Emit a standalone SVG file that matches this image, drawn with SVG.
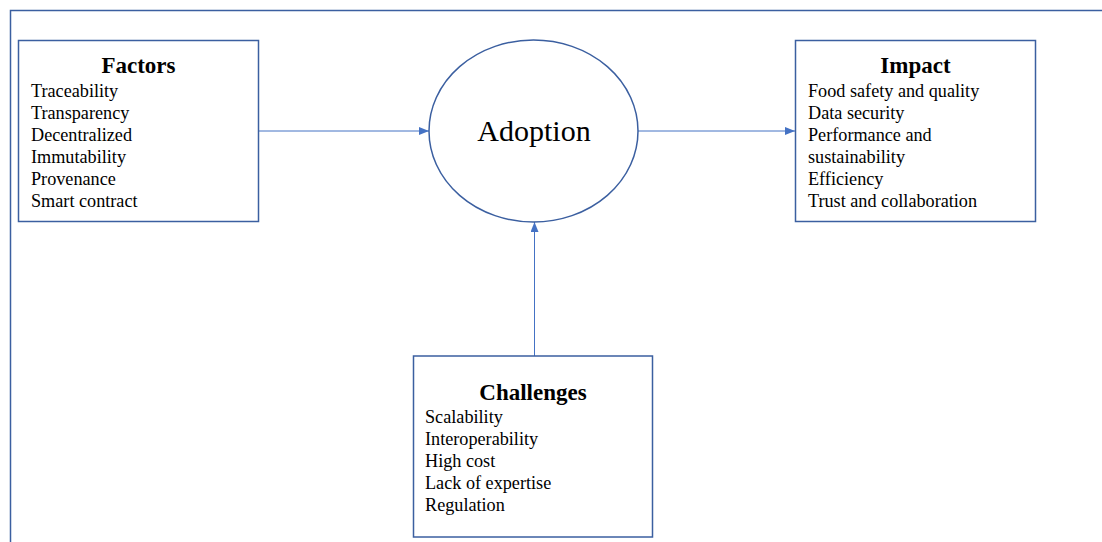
<svg xmlns="http://www.w3.org/2000/svg" width="1102" height="542" viewBox="0 0 1102 542">
<style>
.box{fill:#fff;stroke:#3B5FA0;stroke-width:1.5}
text{font-family:"Liberation Serif","Times New Roman","DejaVu Serif",serif;fill:#000}
.h{font-size:23px;font-weight:bold;text-anchor:middle}
.i{font-size:18.2px}
.con{stroke:#4472C4;stroke-width:1;fill:none}
</style>
<defs>
<marker id="ah" markerWidth="10" markerHeight="8" refX="10" refY="4" orient="auto" markerUnits="userSpaceOnUse">
<path d="M0,0 L10,4 L0,8 Z" fill="#4472C4"/>
</marker>
</defs>
<g id="frame">
<path d="M10.5,542 V10.5 H1102" fill="none" stroke="#3B5FA0" stroke-width="1.5"/>
</g>
<g id="connectors">
<line class="con" x1="259" y1="131" x2="429" y2="131" marker-end="url(#ah)"/>
<line class="con" x1="638" y1="131" x2="795" y2="131" marker-end="url(#ah)"/>
<line class="con" x1="534.5" y1="356" x2="534.5" y2="222" stroke="#8FAADC" marker-end="url(#ah)"/>
</g>
<g id="factors">
<rect class="box" x="18.5" y="40.5" width="240" height="181"/>
<text class="h" x="138.5" y="73">Factors</text>
<text class="i" x="31" y="97">Traceability</text>
<text class="i" x="31" y="119">Transparency</text>
<text class="i" x="31" y="141">Decentralized</text>
<text class="i" x="31" y="163">Immutability</text>
<text class="i" x="31" y="185">Provenance</text>
<text class="i" x="31" y="207">Smart contract</text>
</g>
<g id="adoption">
<ellipse cx="533.5" cy="131" rx="104.5" ry="91" fill="#fff" stroke="#3B5FA0" stroke-width="1.5"/>
<text x="534" y="141" font-size="30" text-anchor="middle">Adoption</text>
</g>
<g id="impact">
<rect class="box" x="795.5" y="40.5" width="240" height="181"/>
<text class="h" x="915.5" y="73">Impact</text>
<text class="i" x="808" y="97">Food safety and quality</text>
<text class="i" x="808" y="119">Data security</text>
<text class="i" x="808" y="141">Performance and</text>
<text class="i" x="808" y="163">sustainability</text>
<text class="i" x="808" y="185">Efficiency</text>
<text class="i" x="808" y="207">Trust and collaboration</text>
</g>
<g id="challenges">
<rect class="box" x="413.5" y="356" width="239" height="181"/>
<text class="h" x="533" y="400">Challenges</text>
<text class="i" x="425" y="423">Scalability</text>
<text class="i" x="425" y="445">Interoperability</text>
<text class="i" x="425" y="467">High cost</text>
<text class="i" x="425" y="489">Lack of expertise</text>
<text class="i" x="425" y="511">Regulation</text>
</g>
</svg>
